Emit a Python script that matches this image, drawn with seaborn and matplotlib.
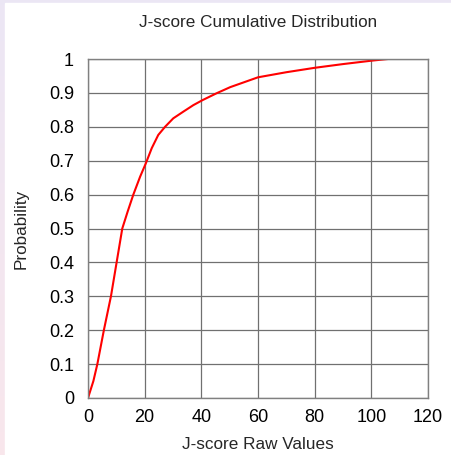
import numpy as np
import pandas as pd
import matplotlib
matplotlib.use("Agg")
import matplotlib.pyplot as plt
import seaborn as sns

# values
raw_values = [0, 1.9, 3.3, 5.6, 8.1, 10.1, 11.1, 12.1, 14.0, 16.0, 18.4, 20.4, 22.5,
              24.8, 27.2, 30.1, 33.7, 37.2, 40.5, 45.4, 50.2, 60.0, 70.0, 80.0, 90.0,
              100.0, 105.8]
probability = [0, 0.05, 0.10, 0.20, 0.30, 0.40, 0.45, 0.50, 0.55, 0.60, 0.653, 0.692, 0.737,
               0.776, 0.80, 0.825, 0.845, 0.864, 0.879, 0.899, 0.917, 0.946, 0.961, 0.974,
               0.985, 0.995, 1.0]
x_ticks = [0, 20, 40, 60, 80, 100, 120]
y_ticks = [0, 0.1, 0.2, 0.3, 0.4, 0.5, 0.6, 0.7, 0.8, 0.9, 1.0]
y_tick_labels = ["0", "0.1", "0.2", "0.3", "0.4", "0.5", "0.6", "0.7", "0.8", "0.9", "1"]

df = pd.DataFrame({"raw": raw_values, "prob": probability})

sns.set_theme(style="whitegrid")
plt.rcParams["font.family"] = ["Liberation Sans", "DejaVu Sans"]

fig = plt.figure(figsize=(4.51, 4.55), dpi=100)

# pale lavender/pink frame around the white panel
bg = fig.add_axes([0, 0, 1, 1], zorder=-10)
top_col = np.array([0.925, 0.905, 0.960])
bot_col = np.array([0.975, 0.905, 0.925])
grad = np.linspace(0, 1, 256)[:, None, None]
img = top_col * (1 - grad) + bot_col * grad
bg.imshow(img, aspect="auto", extent=[0, 1, 0, 1])
bg.add_patch(plt.Rectangle((5 / 451, 0), 1, 1 - 3 / 455, color="white"))
bg.set_xlim(0, 1)
bg.set_ylim(0, 1)
bg.axis("off")

ax = fig.add_axes([88 / 451, 1 - 398 / 455, 340 / 451, 339 / 455])
ax.set_facecolor("white")
sns.lineplot(data=df, x="raw", y="prob", color="#ff0000", linewidth=1.5, ax=ax)

ax.set_xlim(0, 120)
ax.set_ylim(0, 1)
ax.set_xticks(x_ticks)
ax.set_yticks(y_ticks)
ax.set_yticklabels(y_tick_labels)
ax.grid(True, color="#707070", linewidth=0.9)
for sp in ax.spines.values():
    sp.set_color("#808080")
    sp.set_linewidth(1)
ax.tick_params(axis="both", length=0, labelsize=13, colors="black")
ax.tick_params(axis="x", pad=8)
ax.tick_params(axis="y", pad=10)

ax.set_title("J-score Cumulative Distribution", fontsize=12.3, pad=23)
ax.set_xlabel("J-score Raw Values", fontsize=12.3, labelpad=8)
ax.set_ylabel("Probability", fontsize=12.3, labelpad=15)

fig.savefig("out.png", dpi=100)
plt.close(fig)
